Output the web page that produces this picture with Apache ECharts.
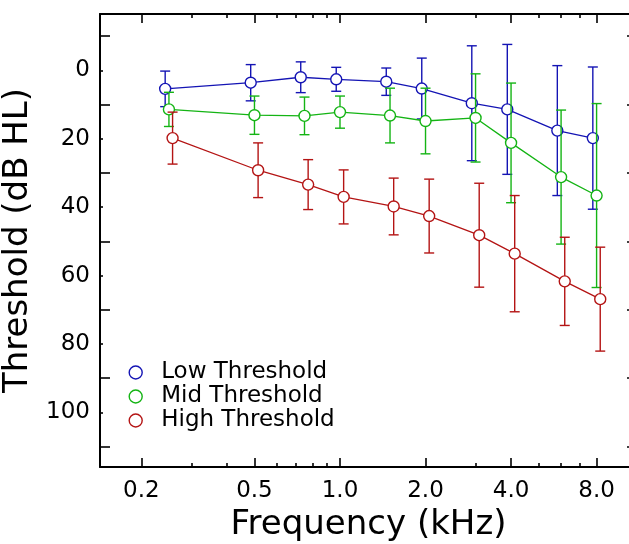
<!DOCTYPE html>
<html><head><meta charset="utf-8">
<script src="https://cdn.jsdelivr.net/npm/echarts@6/dist/echarts.min.js"></script>
<style>html,body{margin:0;padding:0;background:#fff}#c{width:629px;height:544px}</style>
</head><body><div id="c"></div>
<script>
// ---- data ----
const frequencies = [0.25, 0.5, 0.75, 1, 1.5, 2, 3, 4, 6, 8];   // kHz
const seriesNames = ['Low Threshold', 'Mid Threshold', 'High Threshold'];
const lowMean  = [5.4, 3.6, 2.0, 2.6, 3.3, 5.3, 9.6, 11.4, 17.6, 19.8];
const lowSD    = [5.2, 5.3, 4.5, 3.5, 4.0, 8.9, 16.8, 19.0, 19.0, 20.8];
const midMean  = [11.4, 13.1, 13.3, 12.2, 13.2, 14.8, 13.9, 21.2, 31.2, 36.6];
const midSD    = [5.0, 5.6, 5.5, 4.7, 8.0, 9.6, 12.9, 17.5, 19.6, 26.9];
const highMean = [19.8, 29.2, 33.4, 37.0, 39.8, 42.6, 48.2, 53.6, 61.7, 66.9];
const highSD   = [7.6, 8.0, 7.3, 7.9, 8.3, 10.8, 15.2, 17.0, 12.9, 15.2];
const xJitter  = [0.97, 1.0, 1.03];   // horizontal offset factor per group
const xTickLabels = [0.2, 0.5, 1, 2, 4, 8];
const xMinorTicks = [0.3, 0.4, 0.6, 0.7, 0.8, 0.9, 3, 5, 6, 7];
const yTickLabels = [0, 20, 40, 60, 80, 100];
const yMinorTicks = [-10, 10, 30, 50, 70, 90, 110];
const colors = ['#1414b4', '#14b414', '#b41414'];

const means = [lowMean, midMean, highMean];
const sds = [lowSD, midSD, highSD];
const FONT = 'DejaVu Sans';
const X_MIN = 0.143, X_MAX = 11.1, Y_MIN = -16.5, Y_MAX = 116;
const gridBox = {left: 100, top: 14, width: 537, height: 453, outerBoundsMode: 'none', containLabel: false};
const lineStyleAxis = {color: '#000', width: 2};
const tickStyle = {color: '#000', width: 1.6};

// data axes (log scale) carry the lines and labels
function logX(gridIndex, position, extra) {
  return Object.assign({type: 'log', logBase: 10, gridIndex, position, min: X_MIN, max: X_MAX,
    splitLine: {show: false}, minorTick: {show: false}, axisTick: {show: false}}, extra);
}
// tick-only overlay axes: same log positions, expressed in log10 units
function tickX(gridIndex, position, values, length) {
  return {type: 'value', gridIndex, position, min: Math.log10(X_MIN), max: Math.log10(X_MAX),
    splitLine: {show: false}, axisLine: {show: false, onZero: false}, axisLabel: {show: false},
    axisTick: {show: true, inside: true, length, customValues: values.map(v => Math.log10(v)), lineStyle: tickStyle}};
}
function valY(gridIndex, position, extra) {
  return Object.assign({type: 'value', inverse: true, gridIndex, position, min: Y_MIN, max: Y_MAX,
    splitLine: {show: false}}, extra);
}

const xAxes = [
  logX(0, 'bottom', {
    axisLine: {show: true, onZero: false, lineStyle: lineStyleAxis},
    axisLabel: {show: true, customValues: xTickLabels, margin: 13, fontFamily: FONT, fontSize: 23, color: '#000',
      formatter: v => Number(v).toFixed(1)},
    name: 'Frequency (kHz)', nameLocation: 'middle', nameGap: 38,
    nameTextStyle: {fontFamily: FONT, fontSize: 34, color: '#000'}
  }),
  logX(0, 'top', {axisLine: {show: true, onZero: false, lineStyle: lineStyleAxis}, axisLabel: {show: false}}),
  tickX(1, 'bottom', xTickLabels, 9),
  tickX(1, 'top', xTickLabels, 9),
  tickX(2, 'bottom', xMinorTicks, 4),
  tickX(2, 'top', xMinorTicks, 4)
];
const yAxes = [
  valY(0, 'left', {
    axisLine: {show: true, onZero: false, lineStyle: lineStyleAxis},
    axisTick: {show: true, inside: true, length: 3, customValues: yTickLabels, lineStyle: tickStyle},
    axisLabel: {show: true, customValues: yTickLabels, margin: 10, fontFamily: FONT, fontSize: 23, color: '#000'},
    name: 'Threshold (dB HL)', nameLocation: 'middle', nameGap: 51,
    nameTextStyle: {fontFamily: FONT, fontSize: 34, color: '#000'}
  }),
  valY(0, 'right', {
    axisLine: {show: true, onZero: false, lineStyle: lineStyleAxis},
    axisTick: {show: true, inside: true, length: 10, customValues: yMinorTicks, lineStyle: tickStyle},
    axisLabel: {show: false}
  }),
  valY(1, 'left', {
    axisLine: {show: false, onZero: false},
    axisTick: {show: true, inside: true, length: 10, customValues: yMinorTicks, lineStyle: tickStyle},
    axisLabel: {show: false}
  }),
  valY(2, 'left', {axisLine: {show: false, onZero: false}, axisTick: {show: false}, axisLabel: {show: false}})
];

function makeErrorBar(color) {
  return function (params, api) {
    const x = api.value(0), y = api.value(1), sd = api.value(2);
    const top = api.coord([x, y - sd]);
    const bot = api.coord([x, y + sd]);
    const hw = 5;
    const st = {stroke: color, lineWidth: 1.4};
    return {type: 'group', children: [
      {type: 'line', shape: {x1: top[0], y1: top[1], x2: bot[0], y2: bot[1]}, style: st},
      {type: 'line', shape: {x1: top[0] - hw, y1: top[1], x2: top[0] + hw, y2: top[1]}, style: st},
      {type: 'line', shape: {x1: bot[0] - hw, y1: bot[1], x2: bot[0] + hw, y2: bot[1]}, style: st}
    ]};
  };
}

const series = [];
seriesNames.forEach((name, i) => {
  const pts = frequencies.map((f, k) => [f * xJitter[i], means[i][k], sds[i][k]]);
  series.push({
    type: 'custom', name: name + ' SD', xAxisIndex: 0, yAxisIndex: 0,
    renderItem: makeErrorBar(colors[i]), encode: {x: 0, y: 1},
    data: pts, z: 2 + i * 2, silent: true
  });
  series.push({
    type: 'line', name, xAxisIndex: 0, yAxisIndex: 0,
    data: pts.map(p => [p[0], p[1]]),
    symbol: 'circle', symbolSize: 11,
    itemStyle: {color: '#fff', borderColor: colors[i], borderWidth: 1.4},
    lineStyle: {color: colors[i], width: 1.3},
    z: 3 + i * 2
  });
});

const chart = echarts.init(document.getElementById('c'));
chart.setOption({
  animation: false,
  backgroundColor: '#fff',
  grid: [Object.assign({}, gridBox), Object.assign({}, gridBox), Object.assign({}, gridBox)],
  xAxis: xAxes,
  yAxis: yAxes,
  legend: {
    orient: 'vertical', left: 123.5, top: 356, itemWidth: 13, itemHeight: 13, itemGap: 1,
    selectedMode: false,
    textStyle: {fontFamily: FONT, fontSize: 23, color: '#000', padding: [0, 0, 0, 14]},
    data: seriesNames.map((n, i) => ({
      name: n, icon: 'circle',
      itemStyle: {color: '#fff', borderColor: colors[i], borderWidth: 1.4}
    }))
  },
  series
});
</script></body></html>
